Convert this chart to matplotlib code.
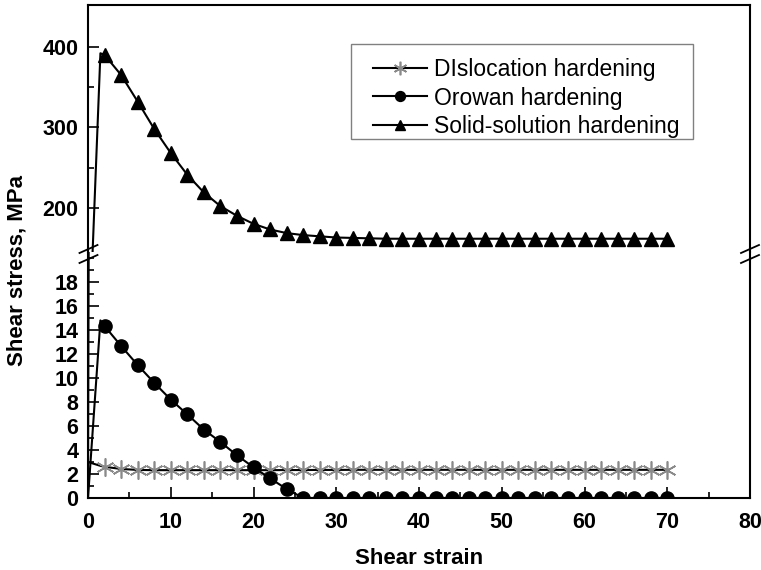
import matplotlib
matplotlib.use("Agg")
import matplotlib.pyplot as plt
from matplotlib.lines import Line2D
from matplotlib.patches import Rectangle
from matplotlib.ticker import MultipleLocator, FixedLocator

plt.rcParams['font.family'] = ['Liberation Sans', 'DejaVu Sans']

# ---- data ----
strain = [0, 1.5, 2, 4, 6, 8, 10, 12, 14, 16, 18, 20, 22, 24, 26, 28, 30, 32, 34,
          36, 38, 40, 42, 44, 46, 48, 50, 52, 54, 56, 58, 60, 62, 64, 66, 68, 70]

dislocation = [3.0, 2.68, 2.6, 2.42, 2.34, 2.32, 2.32, 2.32, 2.32, 2.32, 2.32, 2.32,
               2.32, 2.33, 2.33, 2.34, 2.34, 2.35, 2.35, 2.35, 2.35, 2.35, 2.35, 2.35,
               2.35, 2.35, 2.35, 2.35, 2.35, 2.35, 2.35, 2.35, 2.35, 2.35, 2.35, 2.35, 2.35]

orowan = [0, 14.8, 14.33, 12.67, 11.08, 9.6, 8.2, 6.97, 5.7, 4.67, 3.56, 2.56,
          1.64, 0.75, 0.0, 0, 0, 0, 0, 0, 0, 0, 0, 0, 0, 0, 0, 0, 0, 0, 0, 0, 0, 0, 0, 0, 0]

solid_solution = [0, 392, 390, 365, 332, 298, 268, 241, 219, 202, 190, 180, 173,
                  168.5, 166, 164.5, 163, 162.5, 162, 161.5, 161.5, 161.5, 161.5,
                  161.5, 161.5, 161.5, 161.5, 161.5, 161.5, 161.5, 161.5, 161.5,
                  161.5, 161.5, 161.5, 161.5, 161.5]

labels = ["DIslocation hardening", "Orowan hardening", "Solid-solution hardening"]

x_ticks = [0, 10, 20, 30, 40, 50, 60, 70, 80]
top_ticks = [200, 300, 400]
bot_ticks = [0, 2, 4, 6, 8, 10, 12, 14, 16, 18]

W, H = 761, 570
fig = plt.figure(figsize=(W / 100, H / 100), dpi=100)

left, right = 88 / W, 750 / W
ax_top = fig.add_axes([left, (H - 252) / H, right - left, 247 / H])
ax_bot = fig.add_axes([left, (H - 498) / H, right - left, 246 / H])

marker_idx = list(range(2, len(strain)))
lw = 1.5
TICK_FS = 15.5
LAB_FS = 16

l_dis, = ax_bot.plot(strain, dislocation, color='black', lw=lw, marker=(6, 2, 0),
                     markersize=13, markeredgecolor='#8a8a8a', markeredgewidth=1.2,
                     markevery=marker_idx, label=labels[0])
l_oro, = ax_bot.plot(strain, orowan, color='black', lw=lw, marker='o',
                     markersize=9.5, markevery=marker_idx, label=labels[1])
ax_bot.plot(strain, solid_solution, color='black', lw=lw, marker='^',
            markersize=10, markevery=marker_idx)
ax_top.plot(strain, orowan, color='black', lw=lw, marker='o',
            markersize=9.5, markevery=marker_idx)
l_sol, = ax_top.plot(strain, solid_solution, color='black', lw=lw, marker='^',
                     markersize=10, markevery=marker_idx, label=labels[2])

ax_top.set_xlim(0, 80)
ax_bot.set_xlim(0, 80)
ax_top.set_ylim(145, 452)
ax_bot.set_ylim(0, 20.5)

for ax in (ax_top, ax_bot):
    for s in ax.spines.values():
        s.set_linewidth(1.5)
    ax.tick_params(which='both', direction='in', width=1.2,
                   right=False, top=False)
    ax.tick_params(axis='y', pad=7)
    ax.tick_params(axis='x', pad=10)
    ax.tick_params(which='major', length=8)
    ax.tick_params(which='minor', length=4)

ax_top.spines['bottom'].set_visible(False)
ax_bot.spines['top'].set_visible(False)
ax_top.tick_params(axis='x', which='both', bottom=False, labelbottom=False)

ax_top.yaxis.set_major_locator(FixedLocator(top_ticks))
ax_top.yaxis.set_minor_locator(FixedLocator([250, 350]))
ax_bot.yaxis.set_major_locator(FixedLocator(bot_ticks))
ax_bot.yaxis.set_minor_locator(MultipleLocator(1))
ax_bot.xaxis.set_major_locator(FixedLocator(x_ticks))
ax_bot.xaxis.set_minor_locator(MultipleLocator(5))

for ax in (ax_top, ax_bot):
    for t in ax.get_yticklabels() + ax.get_xticklabels():
        t.set_fontweight('bold')
        t.set_fontsize(TICK_FS)

# break marks on both spines
for xc in (88.5, 750):
    for yc in (249, 259):
        x0, x1 = (xc - 9) / W, (xc + 9) / W
        y0, y1 = (H - (yc + 4)) / H, (H - (yc - 4)) / H
        fig.add_artist(Line2D([x0, x1], [y0, y1], color='black', lw=1.3))

fig.text(17.5 / W, (H - 271) / H, "Shear stress, MPa", rotation=90, ha='center',
         va='center', fontsize=LAB_FS, fontweight='bold')
fig.text(419 / W, (H - 559) / H, "Shear strain", ha='center', va='center',
         fontsize=LAB_FS, fontweight='bold')

# legend frame drawn separately, entries placed inside
fig.add_artist(Rectangle((351 / W, (H - 139) / H), (693 - 351) / W, 95 / H,
                         transform=fig.transFigure, fill=False,
                         edgecolor='#808080', lw=1.0))
leg = fig.legend([l_dis, l_oro, l_sol], labels, loc='upper left',
                 bbox_to_anchor=(373 / W, (H - 58) / H), borderaxespad=0,
                 borderpad=0, fontsize=16.5, frameon=False, handlelength=2.35,
                 handletextpad=0.3, labelspacing=0.24, markerscale=0.75)

fig.savefig("out.png", dpi=100)
